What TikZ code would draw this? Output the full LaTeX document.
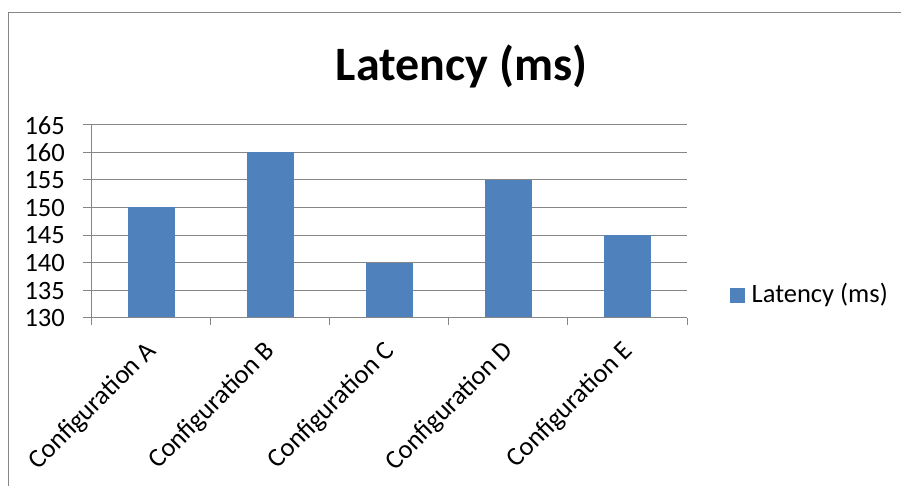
\documentclass[tikz,border=0pt]{standalone}
\usepackage{fontspec}
\setmainfont{Carlito}
\definecolor{barblue}{HTML}{4F81BD}
\definecolor{gridgray}{HTML}{868686}
\begin{document}
\begin{tikzpicture}[x=1pt,y=-1pt,
  gridline/.style={draw=gridgray,line width=1pt},
  axisline/.style={draw=gridgray,line width=1pt},
  frameline/.style={draw=gridgray,line width=1.6pt},
  bar/.style={fill=barblue},
  ticklabel/.style={font=\fontsize{26.5}{30}\selectfont,inner sep=0pt},
  titlestyle/.style={font=\bfseries\fontsize{48}{56}\selectfont,inner sep=0pt}]
\useasboundingbox (0,0) rectangle (901,486);
% frame
\draw[frameline] (8.5,486) -- (8.5,12.7) -- (901,12.7);
% title
\node[titlestyle,anchor=base] (title) at (461.5,80.7) {Latency (ms)};
% gridlines and y labels
\foreach \v [count=\i] in {130,135,140,145,150,155,160,165} {
  \pgfmathsetmacro{\yy}{317.5-(\v-130)*5.5}
  \draw[gridline] (83,\yy) -- (687,\yy);
  \node[ticklabel,anchor=east] (ylab\i) at (65,\yy+0.5) {\v};
}
% bars
\foreach \val/\lab [count=\i] in {150/A,160/B,140/C,155/D,145/E} {
  \pgfmathsetmacro{\cx}{91.5+(\i-0.5)*119.1}
  \pgfmathsetmacro{\top}{317.5-(\val-130)*5.5}
  \path[bar] (\cx-23.5,\top) rectangle (\cx+23.5,317.5);
  \node[ticklabel,anchor=base east,rotate=45] (xlab\i) at (\cx+6,352) {Configuration \lab};
}
% axes
\draw[axisline] (91.5,125) -- (91.5,317.5);
\draw[axisline] (83,317.5) -- (687,317.5);
\foreach \i in {0,...,5} {
  \draw[axisline] (91.5+\i*119.1,317.5) -- (91.5+\i*119.1,325);
}
% legend
\node[fill=barblue,minimum size=15pt,inner sep=0pt] (legkey) at (737.5,295.5) {};
\node[ticklabel,anchor=base west] (legtext) at (751.5,302.7) {Latency (ms)};
\end{tikzpicture}
\end{document}
